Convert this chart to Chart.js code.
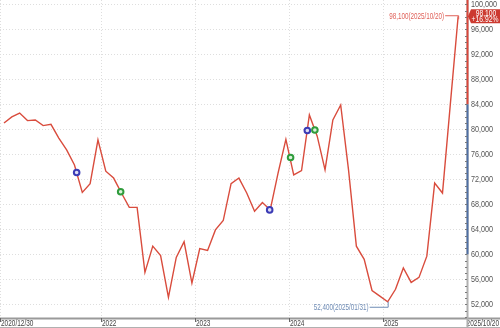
<!DOCTYPE html>
<html>
<head>
<meta charset="utf-8">
<script src="https://cdn.jsdelivr.net/npm/chart.js@4.4.1/dist/chart.umd.min.js"></script>
<style>
html, body { margin: 0; padding: 0; background: #fff; }
canvas { display: block; }
</style>
</head>
<body>
<canvas id="priceChart" width="500" height="328"></canvas>
<script>
// month-end closes, 2020/12 .. 2025/10 (last = 10/20)
const months = [
    '2020/12','2021/01','2021/02','2021/03','2021/04','2021/05','2021/06','2021/07','2021/08','2021/09','2021/10','2021/11','2021/12',
    '2022/01','2022/02','2022/03','2022/04','2022/05','2022/06','2022/07','2022/08','2022/09','2022/10','2022/11','2022/12',
    '2023/01','2023/02','2023/03','2023/04','2023/05','2023/06','2023/07','2023/08','2023/09','2023/10','2023/11','2023/12',
    '2024/01','2024/02','2024/03','2024/04','2024/05','2024/06','2024/07','2024/08','2024/09','2024/10','2024/11','2024/12',
    '2025/01','2025/02','2025/03','2025/04','2025/05','2025/06','2025/07','2025/08','2025/09','2025/10'
];
const prices = [
    81000, 82000, 82600, 81400, 81500, 80600, 80800, 78600, 76700, 74300, 69900, 71300, 78300,
    73300, 72200, 69800, 67500, 67500, 57100, 61300, 59800, 53100, 59500, 62000, 55400,
    60900, 60600, 63900, 65400, 71300, 72200, 69800, 66900, 68300, 67100, 73000, 78400,
    72700, 73400, 82300, 78900, 73500, 81500, 83900, 73500, 61300, 59200, 54200, 53300,
    52400, 54400, 57800, 55500, 56300, 59700, 71400, 69800, 84000, 98100
];

// signal markers (position in month units, price)
const blueX = [9.28, 33.93, 38.74];
const blueY = [73100, 67100, 79800];
const greenX = [14.9, 36.6, 39.7];
const greenY = [70000, 75500, 79900];

const yTicks = [52000, 56000, 60000, 64000, 68000, 72000, 76000, 80000, 84000, 88000, 92000, 96000, 100000];
const xTickPos = [-0.51, 12.45, 24.45, 36.45, 48.45];
const xTickLabels = ['2020/12/30', '2022', '2023', '2024', '2025'];
const lastDate = '2025/10/20';
const highText = '98,100(2025/10/20)';
const lowText = '52,400(2025/01/31)';
const tagPrice = '98,100';
const tagChange = '+16.92%';

const FONT = "'Liberation Sans', Arial, sans-serif";

// narrow text: draw squeezed horizontally
function narrowText(ctx, text, x, y, align, sx, color) {
    ctx.save();
    ctx.font = '9px ' + FONT;
    ctx.fillStyle = color;
    ctx.textBaseline = 'middle';
    ctx.textAlign = align;
    ctx.translate(x, y);
    ctx.scale(sx, 1);
    ctx.fillText(text, 0, 0);
    ctx.restore();
}

const overlay = {
    id: 'overlay',
    afterDraw(chart) {
        const ctx = chart.ctx;
        const area = chart.chartArea;
        const xs = chart.scales.x, ys = chart.scales.y;
        ctx.save();

        // bottom axis + strip border
        ctx.strokeStyle = '#9a9a9a';
        ctx.lineWidth = 2;
        ctx.beginPath();
        ctx.moveTo(0, area.bottom + 0.5);
        ctx.lineTo(500, area.bottom + 0.5);
        ctx.stroke();
        ctx.lineWidth = 1;
        ctx.strokeStyle = '#b0b0b0';
        ctx.beginPath();
        ctx.moveTo(0, 327.5);
        ctx.lineTo(500, 327.5);
        ctx.stroke();

        // x tick marks + labels
        ctx.strokeStyle = '#666';
        xTickPos.forEach((v, i) => {
            const px = Math.max(Math.round(xs.getPixelForValue(v)), 0) + 0.5;
            ctx.beginPath();
            ctx.moveTo(px, area.bottom);
            ctx.lineTo(px, area.bottom + 4);
            ctx.stroke();
            narrowText(ctx, xTickLabels[i], px + 0.5, 323.5, 'left', 0.72, '#444');
        });
        narrowText(ctx, lastDate, 499, 323.5, 'right', 0.72, '#444');

        // right axis line, coloured range
        const rx = area.right + 0.5;
        ctx.lineWidth = 2;
        ctx.strokeStyle = '#b0b0b0';
        ctx.beginPath(); ctx.moveTo(rx, 0); ctx.lineTo(rx, 328); ctx.stroke();
        ctx.strokeStyle = '#d9463b';
        ctx.beginPath(); ctx.moveTo(rx, area.top); ctx.lineTo(rx, ys.getPixelForValue(84000)); ctx.stroke();
        ctx.strokeStyle = '#4f6fa3';
        ctx.beginPath(); ctx.moveTo(rx, ys.getPixelForValue(84000)); ctx.lineTo(rx, ys.getPixelForValue(60000)); ctx.stroke();

        // minor ticks
        ctx.lineWidth = 1;
        ctx.strokeStyle = '#7a7a7a';
        for (let v = 50000; v <= 100000; v += 1000) {
            const py = Math.round(ys.getPixelForValue(v)) + 0.5;
            ctx.beginPath();
            ctx.moveTo(area.right - 2, py);
            ctx.lineTo(area.right, py);
            ctx.stroke();
        }

        // y tick labels
        yTicks.forEach(v => {
            narrowText(ctx, v.toLocaleString('en-US'), area.right + 4, ys.getPixelForValue(v), 'left', 0.8, '#555');
        });

        // high annotation
        const hi = prices.indexOf(Math.max(...prices));
        const hx = xs.getPixelForValue(hi), hy = ys.getPixelForValue(prices[hi]);
        ctx.strokeStyle = '#e0625a';
        ctx.beginPath();
        ctx.moveTo(hx - 13, hy - 0.5);
        ctx.lineTo(hx + 0.5, hy - 0.5);
        ctx.lineTo(hx + 0.5, hy + 3);
        ctx.stroke();
        narrowText(ctx, highText, hx - 14, hy, 'right', 0.7, '#e0625a');

        // low annotation
        const lo = prices.indexOf(Math.min(...prices));
        const lx = xs.getPixelForValue(lo), ly = ys.getPixelForValue(prices[lo]);
        ctx.strokeStyle = '#6f8cb5';
        ctx.beginPath();
        ctx.moveTo(lx - 18, ly + 5.5);
        ctx.lineTo(lx + 0.5, ly + 5.5);
        ctx.lineTo(lx + 0.5, ly);
        ctx.stroke();
        narrowText(ctx, lowText, lx - 19, ly + 6, 'right', 0.7, '#6f8cb5');

        // current price tag
        const ty = ys.getPixelForValue(prices[prices.length - 1]);
        ctx.fillStyle = '#cc3a30';
        ctx.beginPath();
        ctx.moveTo(area.right + 1, ty);
        ctx.lineTo(area.right + 4, ty - 7);
        ctx.lineTo(500, ty - 7);
        ctx.lineTo(500, ty + 7);
        ctx.lineTo(area.right + 4, ty + 7);
        ctx.closePath();
        ctx.fill();
        narrowText(ctx, tagPrice, 486, ty - 3, 'center', 0.75, '#fff');
        narrowText(ctx, tagChange, 485, ty + 3.5, 'center', 0.75, '#fff');

        ctx.restore();
    }
};

const ctx = document.getElementById('priceChart').getContext('2d');
new Chart(ctx, {
    type: 'line',
    data: {
        datasets: [{
            data: prices.map((p, i) => ({ x: i, y: p })),
            borderColor: '#d94c3d',
            borderWidth: 1.4,
            pointRadius: 0,
            tension: 0,
            order: 2
        }, {
            data: blueX.map((x, i) => ({ x: x, y: blueY[i] })),
            showLine: false,
            pointRadius: 2.8,
            pointBorderWidth: 2,
            pointBorderColor: '#3b3bb5',
            pointBackgroundColor: '#dcdcf5',
            order: 1
        }, {
            data: greenX.map((x, i) => ({ x: x, y: greenY[i] })),
            showLine: false,
            pointRadius: 2.8,
            pointBorderWidth: 2,
            pointBorderColor: '#2f9c3c',
            pointBackgroundColor: '#daf2da',
            order: 1
        }]
    },
    options: {
        responsive: false,
        animation: false,
        devicePixelRatio: 1,
        layout: { padding: 0, autoPadding: false },
        plugins: { legend: { display: false }, tooltip: { enabled: false } },
        scales: {
            x: {
                type: 'linear',
                min: -0.51,
                max: 59.13,
                afterFit: s => { s.height = 10; },
                afterBuildTicks: s => { s.ticks = xTickPos.map(v => ({ value: v })); },
                grid: { color: '#dedede', drawTicks: false },
                border: { display: false, dash: [1, 2] },
                ticks: { display: false }
            },
            y: {
                position: 'right',
                min: 49800,
                max: 100700,
                afterFit: s => { s.width = 33; },
                afterBuildTicks: s => { s.ticks = yTicks.map(v => ({ value: v })); },
                grid: { color: '#dedede', drawTicks: false },
                border: { display: false, dash: [1, 2] },
                ticks: { display: false }
            }
        }
    },
    plugins: [overlay]
});
</script>
</body>
</html>
